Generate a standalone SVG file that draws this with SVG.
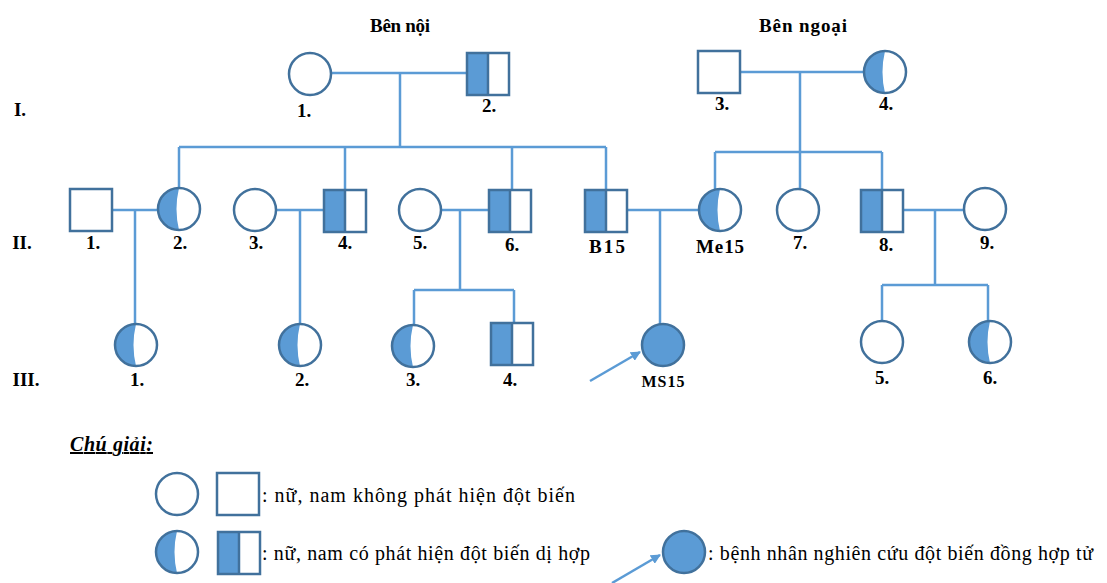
<svg xmlns="http://www.w3.org/2000/svg" width="1107" height="583" viewBox="0 0 1107 583">
<style>
text{font-family:"Liberation Serif","Times New Roman","DejaVu Serif",serif;fill:#000}
.ln{stroke:#5B9BD5;stroke-width:2.5;fill:none}
.sh{stroke:#41719C;stroke-width:2.5}
.lab{font-weight:bold;font-size:19px;text-anchor:middle}
.sm{font-weight:bold;font-size:16px;text-anchor:middle}
.leg{font-size:20px}
</style>
<defs>
<g id="fE"><circle r="21" fill="#fff" class="sh"/></g>
<g id="fH"><circle r="21" fill="#fff"/><path d="M0,-21 A21,21 0 0 0 0,21 Q-5,0 0,-21Z" fill="#5B9BD5"/><circle r="21" fill="none" class="sh"/></g>
<g id="fA"><circle r="21" fill="#5B9BD5" class="sh"/></g>
<g id="mE"><rect x="-21" y="-21" width="42" height="42" fill="#fff" class="sh"/></g>
<g id="mH"><rect x="-21" y="-21" width="42" height="42" fill="#fff"/><rect x="-21" y="-21" width="21" height="42" fill="#5B9BD5"/><line x1="0" y1="-21" x2="0" y2="21" class="sh"/><rect x="-21" y="-21" width="42" height="42" fill="none" class="sh"/></g>
<marker id="arr" viewBox="0 0 10 10" refX="9" refY="5" markerWidth="4" markerHeight="4" orient="auto"><path d="M0,0 L10,5 L0,10Z" fill="#5B9BD5"/></marker>
</defs>
<rect width="1107" height="583" fill="#fff"/>

<text class="lab" x="400" y="32" textLength="60">Bên nội</text>
<text class="lab" x="803" y="32" textLength="88">Bên ngoại</text>
<text class="lab" x="20" y="116">I.</text>
<text class="lab" x="22" y="249">II.</text>
<text class="lab" x="26" y="386">III.</text>

<g id="connectors">
<path class="ln" d="M331,73 H467 M400,73 V147 M179,147 H606 M179,147 V188 M345,147 V189 M512,147 V189 M606,147 V189"/>
<path class="ln" d="M740,72 H864 M800,72 V152 M715,152 H882 M715,152 V189 M800,152 V189 M882,152 V189"/>
<path class="ln" d="M112,210 H158 M135,210 V324"/>
<path class="ln" d="M276,210 H324 M300,210 V324"/>
<path class="ln" d="M441,210 H490 M460,210 V290 M414,290 H514 M414,290 V325 M514,290 V323"/>
<path class="ln" d="M628,210 H699 M660,210 V324"/>
<path class="ln" d="M903,210 H964 M935,210 V285 M882,285 H988 M882,285 V322 M988,285 V322"/>
<line class="ln" x1="590" y1="381" x2="640" y2="352" marker-end="url(#arr)"/>
</g>

<g id="I1"><use href="#fE" x="310" y="74"/><text class="lab" x="304" y="117">1.</text></g>
<g id="I2"><use href="#mH" x="488" y="74"/><text class="lab" x="489" y="112">2.</text></g>
<g id="I3"><use href="#mE" x="719" y="72"/><text class="lab" x="722" y="110">3.</text></g>
<g id="I4"><use href="#fH" x="885" y="72"/><text class="lab" x="886" y="110">4.</text></g>

<g id="II1"><use href="#mE" x="91" y="210"/><text class="lab" x="93" y="249">1.</text></g>
<g id="II2"><use href="#fH" x="179" y="209"/><text class="lab" x="180" y="249">2.</text></g>
<g id="II3"><use href="#fE" x="255" y="210"/><text class="lab" x="256" y="249">3.</text></g>
<g id="II4"><use href="#mH" x="345" y="211"/><text class="lab" x="345" y="249">4.</text></g>
<g id="II5"><use href="#fE" x="420" y="210"/><text class="lab" x="420" y="249">5.</text></g>
<g id="II6"><use href="#mH" x="510" y="211"/><text class="lab" x="512" y="251">6.</text></g>
<g id="B15"><use href="#mH" x="606" y="211"/><text class="lab" x="607" y="253" textLength="36">B15</text></g>
<g id="Me15"><use href="#fH" x="720" y="210"/><text class="lab" x="720" y="253" textLength="48">Me15</text></g>
<g id="II7"><use href="#fE" x="798" y="210"/><text class="lab" x="800" y="249">7.</text></g>
<g id="II8"><use href="#mH" x="882" y="211"/><text class="lab" x="886" y="251">8.</text></g>
<g id="II9"><use href="#fE" x="985" y="209"/><text class="lab" x="987" y="249">9.</text></g>

<g id="III1"><use href="#fH" x="136" y="345"/><text class="lab" x="137" y="386">1.</text></g>
<g id="III2"><use href="#fH" x="300" y="345"/><text class="lab" x="302" y="386">2.</text></g>
<g id="III3"><use href="#fH" x="413" y="346"/><text class="lab" x="413" y="386">3.</text></g>
<g id="III4"><use href="#mH" x="512" y="344"/><text class="lab" x="510" y="386">4.</text></g>
<g id="MS15"><use href="#fA" x="663" y="345"/><text class="sm" x="663" y="387" textLength="43">MS15</text></g>
<g id="III5"><use href="#fE" x="882" y="342"/><text class="lab" x="882" y="384">5.</text></g>
<g id="III6"><use href="#fH" x="990" y="342"/><text class="lab" x="990" y="384">6.</text></g>

<g id="legend">
<text x="70" y="451" textLength="83" style="font-size:20px;font-weight:bold;font-style:italic;text-decoration:underline">Chú giải:</text>
<use href="#fE" x="177" y="494"/>
<use href="#mE" x="238" y="494"/>
<text class="leg" x="262" y="502" textLength="313">: nữ, nam không phát hiện đột biến</text>
<use href="#fH" x="177" y="552"/>
<use href="#mH" x="239" y="553"/>
<text class="leg" x="262" y="560" textLength="328">: nữ, nam có phát hiện đột biến dị hợp</text>
<use href="#fA" x="684" y="552"/>
<line class="ln" x1="612" y1="583" x2="660" y2="555" marker-end="url(#arr)"/>
<text class="leg" x="708" y="560" textLength="385">: bệnh nhân nghiên  cứu đột biến đồng hợp tử</text>
</g>
</svg>
